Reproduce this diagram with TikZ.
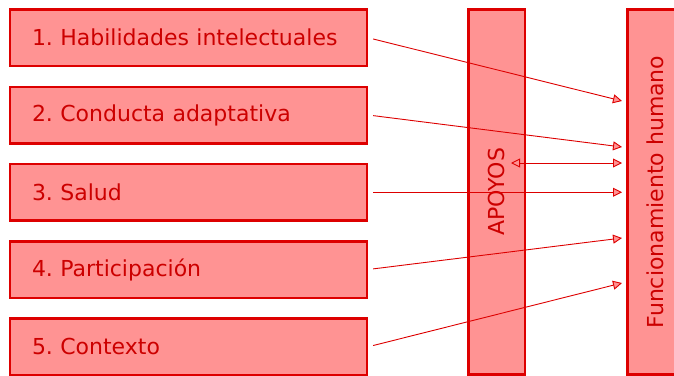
\documentclass[tikz,border=0pt]{standalone}
\usepackage{fontspec}
\setmainfont{DejaVu Sans}
\usetikzlibrary{arrows.meta}
\definecolor{boxfill}{HTML}{FF9393}
\definecolor{boxline}{HTML}{DD0000}
\definecolor{boxtext}{HTML}{CC0000}
\frenchspacing

\begin{document}
\begin{tikzpicture}[x=1pt, y=-1pt,
    >={Triangle[length=9pt, width=9pt, fill=boxfill]},
    dimension/.style={draw=boxline, fill=boxfill, line width=2.5pt, text=boxtext,
        minimum height=56.5pt, text width=313pt, inner xsep=22pt, align=left,
        font=\fontsize{22}{26}\selectfont},
    bar/.style={draw=boxline, fill=boxfill, line width=2.5pt, text=boxtext,
        minimum width=365pt, minimum height=56.5pt, rotate=90,
        font=\fontsize{22}{26}\selectfont},
    link/.style={draw=boxline, line width=0.9pt}]
    \useasboundingbox (0,0) rectangle (674,375);

    \node[dimension](D_1) at (188.5, 37.75) {1. Habilidades intelectuales};
    \node[dimension](D_2) at (188.5, 115) {2. Conducta adaptativa};
    \node[dimension](D_3) at (188.5, 192.25) {3. Salud};
    \node[dimension](D_4) at (188.5, 269.5) {4. Participación};
    \node[dimension](D_5) at (188.5, 346.75) {5. Contexto};

    \node[bar](AP) at (496.5, 192) {APOYOS};
    \node[bar](FH) at (655.5, 192) {Funcionamiento humano};

    % arrow ends on the left side of FH
    \coordinate (T_1) at (622, 101);
    \coordinate (T_2) at (622, 147);
    \coordinate (T_S) at (622, 163);
    \coordinate (T_3) at (622, 192.25);
    \coordinate (T_4) at (622, 238);
    \coordinate (T_5) at (622, 283);
    \coordinate (S_A) at (511, 163);

    \path[->] (D_1.east) edge[link, shorten <=5pt] (T_1);
    \path[->] (D_2.east) edge[link, shorten <=5pt] (T_2);
    \path[->] (D_3.east) edge[link, shorten <=5pt] (T_3);
    \path[->] (D_4.east) edge[link, shorten <=5pt] (T_4);
    \path[->] (D_5.east) edge[link, shorten <=5pt] (T_5);
    \path[<->] (S_A) edge[link] (T_S);
\end{tikzpicture}
\end{document}
